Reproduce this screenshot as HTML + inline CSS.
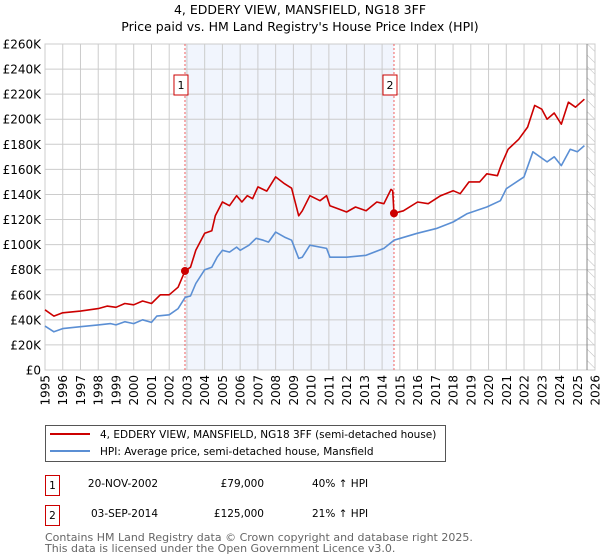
<!DOCTYPE html>
<html><head><meta charset="utf-8"><style>
body{margin:0;background:#fff;width:600px;height:560px;overflow:hidden;font-family:"Liberation Sans","DejaVu Sans",sans-serif;}
svg{display:block}
</style></head><body>
<svg id="chart" width="600" height="560" xmlns="http://www.w3.org/2000/svg" font-family="DejaVu Sans, Liberation Sans, sans-serif">
<text x="300" y="14" text-anchor="middle" font-size="12.5" fill="#000">4, EDDERY VIEW, MANSFIELD, NG18 3FF</text>
<text x="300" y="31" text-anchor="middle" font-size="12.5" fill="#000">Price paid vs. HM Land Registry's House Price Index (HPI)</text>
<g id="plot"></g>
<rect x="45.5" y="425.5" width="400" height="36" fill="#fff" stroke="#555"/>
<line x1="50" y1="434" x2="90" y2="434" stroke="#cc0000" stroke-width="2"/>
<text x="100" y="438" font-size="10.5">4, EDDERY VIEW, MANSFIELD, NG18 3FF (semi-detached house)</text>
<line x1="50" y1="451" x2="90" y2="451" stroke="#5b8fd4" stroke-width="2"/>
<text x="100" y="455" font-size="10.5">HPI: Average price, semi-detached house, Mansfield</text>
<g font-size="10.5">
<rect x="45.5" y="475.5" width="14" height="20" fill="#fff" stroke="#cc0000"/>
<text x="52.5" y="489" text-anchor="middle">1</text>
<text x="123" y="487" text-anchor="middle">20-NOV-2002</text>
<text x="264" y="487" text-anchor="end">£79,000</text>
<text x="312" y="487">40% ↑ HPI</text>
<rect x="45.5" y="505.5" width="14" height="20" fill="#fff" stroke="#cc0000"/>
<text x="52.5" y="519" text-anchor="middle">2</text>
<text x="124.5" y="517" text-anchor="middle">03-SEP-2014</text>
<text x="264" y="517" text-anchor="end">£125,000</text>
<text x="312" y="517">21% ↑ HPI</text>
</g>
<text x="45" y="541" font-size="11" fill="#666">Contains HM Land Registry data © Crown copyright and database right 2025.</text>
<text x="45" y="552" font-size="11" fill="#666">This data is licensed under the Open Government Licence v3.0.</text>
</svg>
<script>
const hpiYears=[1995,1995.5,1996,1997,1998,1998.7,1999,1999.5,2000,2000.5,2001,2001.3,2002,2002.5,2002.9,2003.2,2003.5,2004,2004.4,2004.7,2005,2005.4,2005.8,2006,2006.5,2006.9,2007.3,2007.6,2008,2008.5,2008.9,2009.3,2009.5,2009.93,2010.87,2011.06,2012,2013.1,2014.1,2014.67,2015.98,2017.1,2018,2018.8,2019.9,2020.67,2021,2022,2022.5,2023.3,2023.7,2024.1,2024.6,2025,2025.4];
const hpiValues=[35,30.5,33,34.5,36,37,36,38.5,37,40,38,43,44,49,58,59,69,80,82,90,95.5,94,98,95.5,99.5,105,103.5,102,110,106,103.5,89,90,99.5,97,90,90,91.5,97,103.5,109,113,118,124.7,130,135,144.6,154,174,166,170,163,176,174,179];
const priceYears=[1995,1995.5,1996,1997,1998,1998.5,1999,1999.5,2000,2000.5,2001,2001.5,2002,2002.5,2002.89,2003.2,2003.5,2004,2004.4,2004.6,2005,2005.4,2005.8,2006.1,2006.4,2006.7,2007,2007.5,2008,2008.5,2008.9,2009.3,2009.5,2009.93,2010.5,2010.87,2011.06,2011.5,2012,2012.5,2013.1,2013.7,2014.1,2014.5,2014.6,2014.67,2015.2,2016,2016.6,2017.3,2018,2018.4,2018.9,2019.5,2019.9,2020.5,2020.7,2021.1,2021.7,2022.2,2022.6,2023,2023.3,2023.7,2024.1,2024.5,2024.9,2025.4];
const priceValues=[48,43,45.6,47,49,51,50,53,52,55,53,60,60,66,79,82,95.5,109,111,123,134,131,139,134,139,136.6,146,142.7,154,148.6,145,123,127,139,135,139,131,128.7,126,130,127,134,132.6,144,143,125,127,134,132.6,139,143,140.6,150,150,156.5,155,163,176,184,193.7,211,208,200,205,196,213.6,209.6,216];
const saleYears=[2002.89,2014.67];
const saleValues=[79,125];
const saleLabels=["1","2"];
const yTicks=[0,20,40,60,80,100,120,140,160,180,200,220,240,260];
const xTicks=[1995,1996,1997,1998,1999,2000,2001,2002,2003,2004,2005,2006,2007,2008,2009,2010,2011,2012,2013,2014,2015,2016,2017,2018,2019,2020,2021,2022,2023,2024,2025,2026];
const dataEndYear=2025.55;

const L=45,R=595,T=44,B=370;
const x=yr=>L+(yr-1995)*(R-L)/31;
const y=v=>B-v*(B-T)/260;
const NS="http://www.w3.org/2000/svg";
const g=document.getElementById('plot');
function mk(tag,attrs){const e=document.createElementNS(NS,tag);for(const k in attrs)e.setAttribute(k,attrs[k]);g.appendChild(e);return e;}

let sh=mk('rect',{x:x(saleYears[0]),y:T,width:x(saleYears[1])-x(saleYears[0]),height:B-T,fill:'#eef3fc',opacity:0.8});


const defs=document.createElementNS(NS,'defs');
defs.innerHTML='<pattern id="hatch" width="8" height="8" patternUnits="userSpaceOnUse" patternTransform="rotate(-45)"><line x1="0" y1="0" x2="0" y2="8" stroke="#bbb" stroke-width="1"/></pattern>';
g.appendChild(defs);
let ht=mk('rect',{x:x(dataEndYear),y:T,width:R-x(dataEndYear),height:B-T,fill:'url(#hatch)'});



yTicks.forEach(t=>{
  let l=mk('line',{x1:L,x2:R,y1:y(t),y2:y(t),stroke:'#ccc','stroke-width':1});
  
  
  let tx=mk('text',{x:L-4,y:y(t)+4.5,'text-anchor':'end','font-size':12});
  
  
  tx.textContent=t===0?'£0':'£'+t+'K';
});
xTicks.forEach(t=>{
  let l=mk('line',{x1:x(t),x2:x(t),y1:T,y2:B,stroke:'#ccc','stroke-width':1});
  
  
  let tx=mk('text',{x:0,y:0,'text-anchor':'end','font-size':12,transform:`translate(${x(t)+4.5},${B+5}) rotate(-90)`});
  
  
  tx.textContent=t;
});
let ax=mk('rect',{x:L,y:T,width:R-L,height:B-T,fill:'none',stroke:'#ccc'});


let ve=mk('line',{x1:x(dataEndYear),x2:x(dataEndYear),y1:T,y2:B,stroke:'#888'});



saleYears.forEach((s,i)=>{
  let l=mk('line',{x1:x(s),x2:x(s),y1:T,y2:B,stroke:'#f06060','stroke-dasharray':'2,2','stroke-width':1});
  
  
  let bx=mk('rect',{x:x(s)-11,y:75,width:14,height:20,fill:'#fff',stroke:'#cc0000'});
  
  
  let tx=mk('text',{x:x(s)-4,y:89,'text-anchor':'middle','font-size':11});
  
  
  tx.textContent=saleLabels[i];
});

function line(xs,vs,color,name){
  const p=mk('polyline',{points:xs.map((a,i)=>x(a).toFixed(1)+','+y(vs[i]).toFixed(1)).join(' '),fill:'none',stroke:color,'stroke-width':1.6,'stroke-linejoin':'round'});
  
  
}
line(hpiYears,hpiValues,'#5b8fd4','hpi-line');
line(priceYears,priceValues,'#cc0000','price-line');
saleYears.forEach((s,i)=>{
  let c=mk('circle',{cx:x(s),cy:y(saleValues[i]),r:4,fill:'#cc0000'});
  
  
});
</script>
</body></html>
